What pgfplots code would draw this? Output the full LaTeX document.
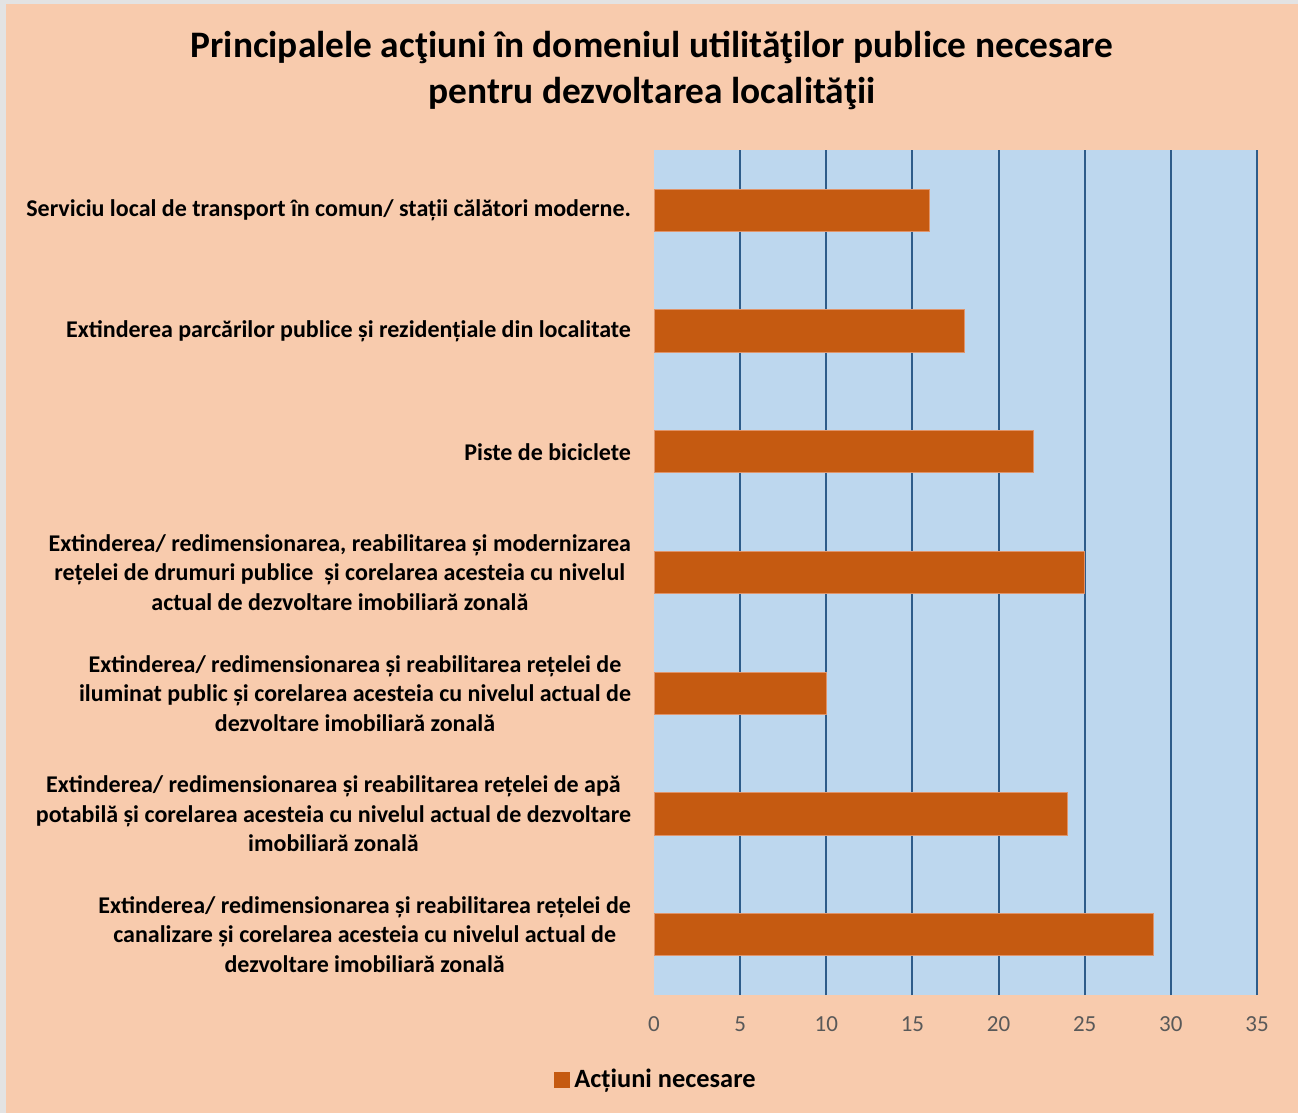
\documentclass[border=0pt]{standalone}
\usepackage{fontspec}
\setmainfont{Carlito}
\usepackage{pgfplots}
\pgfplotsset{compat=1.18}
\definecolor{peach}{HTML}{F8CBAD}
\definecolor{plotblue}{HTML}{BDD7EE}
\definecolor{gridblue}{HTML}{2E5C8A}
\definecolor{barcol}{HTML}{C55A11}
\definecolor{baredge}{HTML}{E0946A}
\definecolor{ticklab}{HTML}{595959}
\begin{document}
\begin{tikzpicture}
\fill[gray!22] (0bp,0bp) rectangle (649bp,556.5bp);
\fill[peach] (3bp,0bp) rectangle (649bp,554.5bp);
\useasboundingbox (0bp,0bp) rectangle (649bp,556.5bp);
\node[align=center,font=\bfseries\fontsize{18.7bp}{23bp}\selectfont] at (326bp,521bp)
  {Principalele acţiuni în domeniul utilităţilor publice necesare\\pentru dezvoltarea localităţii};
\begin{axis}[
  at={(327bp,59bp)}, anchor=south west,
  scale only axis, width=301.5bp, height=422.5bp,
  xbar, bar width=0.35,
  xmin=0, xmax=35, ymin=-0.5, ymax=6.5,
  xtick={5,10,...,35},
  extra x ticks={0}, extra x tick style={grid=none},
  xmajorgrids, major grid style={draw=gridblue, line width=1bp},
  axis background/.style={fill=plotblue},
  axis line style={draw=none},
  major tick length=0pt,
  /pgf/number format/assume math mode=true,
  xticklabel style={font=\fontsize{11.5bp}{13bp}\selectfont, text=ticklab, yshift=-7.5bp},
  ytick={0,...,6},
  yticklabels={
    {Extinderea/ redimensionarea și reabilitarea rețelei de\\canalizare și corelarea acesteia cu nivelul actual de\\dezvoltare imobiliară zonală},
    {Extinderea/ redimensionarea și reabilitarea rețelei de apă\\potabilă și corelarea acesteia cu nivelul actual de dezvoltare\\imobiliară zonală},
    {Extinderea/ redimensionarea și reabilitarea rețelei de\\iluminat public și corelarea acesteia cu nivelul actual de\\dezvoltare imobiliară zonală},
    {Extinderea/ redimensionarea, reabilitarea și modernizarea\\rețelei de drumuri publice\ \ și corelarea acesteia cu nivelul\\actual de dezvoltare imobiliară zonală},
    {Piste de biciclete},
    {Extinderea parcărilor publice și rezidențiale din localitate},
    {Serviciu local de transport în comun/ stații călători moderne.}
  },
  yticklabel style={align=center, anchor=east, xshift=-8bp,
    font=\bfseries\fontsize{12bp}{14.75bp}\selectfont},
  legend style={at={(0.005,-0.1006)}, anchor=center, draw=none, fill=none,
    font=\bfseries\fontsize{13.2bp}{15bp}\selectfont, legend cell align=left},
  legend image code/.code={\fill[barcol] (-2bp,-3.75bp) rectangle (5.5bp,3.75bp);},
]
\addplot[fill=barcol, draw=baredge, line width=0.5bp] coordinates {
  (29,0) (24,1) (10,2) (25,3) (22,4) (18,5) (16,6)
};
\addlegendentry{Acțiuni necesare}
\end{axis}
\end{tikzpicture}
\end{document}
